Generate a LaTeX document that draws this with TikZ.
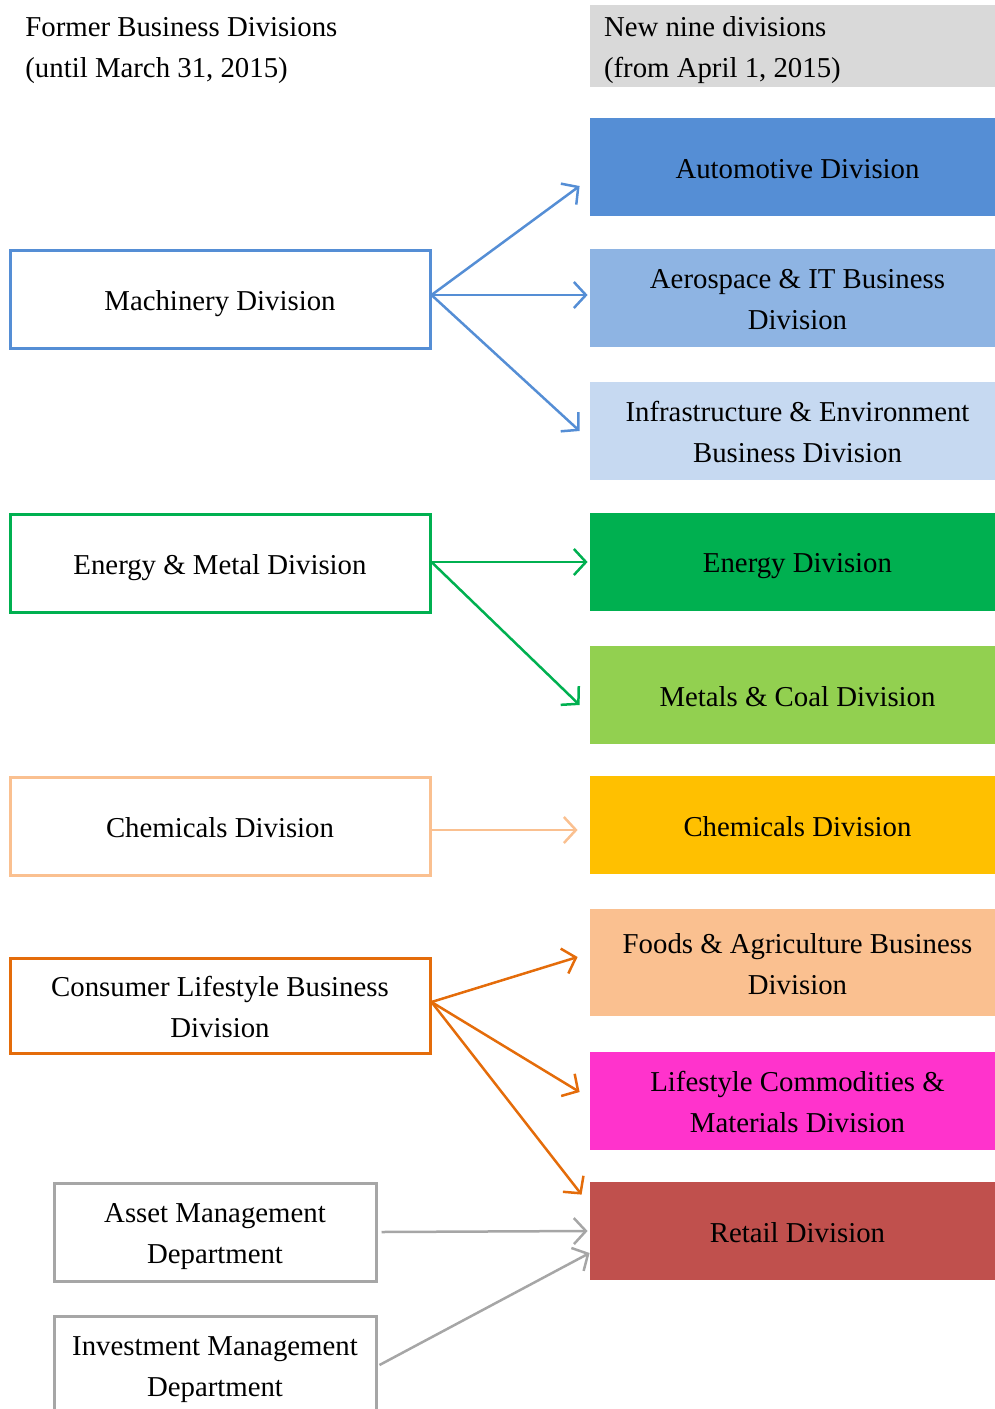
\documentclass[tikz,border=0pt]{standalone}
\usepackage{fontspec}
\setmainfont{Liberation Serif}
\usetikzlibrary{arrows.meta}
\definecolor{cauto}{HTML}{558ED5}
\definecolor{caero}{HTML}{8EB4E3}
\definecolor{cinfra}{HTML}{C6D9F1}
\definecolor{cenergy}{HTML}{00B050}
\definecolor{cmetal}{HTML}{92D050}
\definecolor{cchem}{HTML}{FFC000}
\definecolor{cfood}{HTML}{FAC090}
\definecolor{clife}{HTML}{FF33CC}
\definecolor{cretail}{HTML}{C0504D}
\definecolor{ccons}{HTML}{E46C0A}
\definecolor{cgrayline}{HTML}{A6A6A6}
\definecolor{chead}{HTML}{D9D9D9}
\newcommand{\sr}{\rule[-4pt]{0pt}{19pt}}
\newcommand{\srr}{\hspace*{5pt}\rule[-4pt]{0pt}{19pt}}
\begin{document}
\begin{tikzpicture}[x=0.5pt,y=-0.5pt,
  every node/.style={font=\fontsize{14.4}{20.5}\selectfont, text=black},
  newbox/.style={rectangle, minimum width=202.5pt, minimum height=49pt, inner sep=0pt, align=center},
  oldbox/.style={rectangle, draw, line width=1.5pt, minimum width=210pt, minimum height=49pt, inner sep=0pt, align=center},
  smallbox/.style={oldbox, draw=cgrayline, minimum width=161pt},
  conn/.style={line width=1.25pt, -{Straight Barb[length=6pt,width=13pt]}}]
\useasboundingbox (0,0) rectangle (995,1409);

% headers
\node[anchor=west, align=left, inner sep=0pt] (hleft) at (25,46) {\sr Former Business Divisions\\\sr(until March 31, 2015)};
\node[rectangle, fill=chead, minimum width=202.5pt, minimum height=41pt, inner xsep=7pt, inner ysep=0pt, text width=188.5pt, align=flush left] (hright) at (792.5,46) {\sr New nine divisions\\\sr(from April 1, 2015)};

% new divisions
\node[newbox, fill=cauto] (auto) at (792.5,167) {\srr Automotive Division};
\node[newbox, fill=caero] (aero) at (792.5,298) {\srr Aerospace \& IT Business\\\srr Division};
\node[newbox, fill=cinfra] (infra) at (792.5,431) {\srr Infrastructure \& Environment\\\srr Business Division};
\node[newbox, fill=cenergy] (energy) at (792.5,561.5) {\srr Energy Division};
\node[newbox, fill=cmetal] (metal) at (792.5,695) {\srr Metals \& Coal Division};
\node[newbox, fill=cchem] (chemR) at (792.5,825) {\srr Chemicals Division};
\node[newbox, fill=cfood, minimum height=53.5pt] (food) at (792.5,962.5) {\srr Foods \& Agriculture Business\\\srr Division};
\node[newbox, fill=clife] (life) at (792.5,1100.5) {\srr Lifestyle Commodities \&\\\srr Materials Division};
\node[newbox, fill=cretail] (retail) at (792.5,1231) {\srr Retail Division};

% former divisions
\node[oldbox, draw=cauto] (mach) at (220,299) {\sr Machinery Division};
\node[oldbox, draw=cenergy] (enmet) at (220,563) {\sr Energy \& Metal Division};
\node[oldbox, draw=cfood] (chemL) at (220,826.5) {\sr Chemicals Division};
\node[oldbox, draw=ccons, minimum height=47.5pt] (cons) at (220,1005.5) {\sr Consumer Lifestyle Business\\\sr Division};
\node[smallbox] (asset) at (215,1232) {\sr Asset Management\\\sr Department};
\node[smallbox] (invest) at (215,1365) {\sr Investment Management\\\sr Department};

% connectors
\draw[conn, cauto] ([yshift=2pt]mach.east) -- ([xshift=-5pt,yshift=-9.5pt]auto.west);
\draw[conn, cauto] ([yshift=2pt]mach.east) -- ([xshift=-1pt,yshift=1.5pt]aero.west);
\draw[conn, cauto] ([yshift=2pt]mach.east) -- ([xshift=-5pt]infra.west);
\draw[conn, cenergy] ([yshift=0.5pt]enmet.east) -- ([xshift=-1pt,yshift=-0.25pt]energy.west);
\draw[conn, cenergy] ([yshift=0.5pt]enmet.east) -- ([xshift=-5pt,yshift=-5pt]metal.west);
\draw[conn, cfood] ([yshift=-1.75pt]chemL.east) -- ([xshift=-6pt,yshift=-2.5pt]chemR.west);
\draw[conn, ccons] ([yshift=1.75pt]cons.east) -- ([xshift=-6pt,yshift=2.75pt]food.west);
\draw[conn, ccons] ([yshift=1.75pt]cons.east) -- ([xshift=-5pt,yshift=4.25pt]life.west);
\draw[conn, ccons] ([yshift=1.75pt]cons.east) -- ([xshift=-4pt,yshift=-6.5pt]retail.north west);
\draw[conn, cgrayline] ([xshift=2pt]asset.east) -- ([xshift=-1pt]retail.west);
\draw[conn, cgrayline] ([xshift=1pt]invest.east) -- ([yshift=-11pt]retail.west);
\end{tikzpicture}
\end{document}
